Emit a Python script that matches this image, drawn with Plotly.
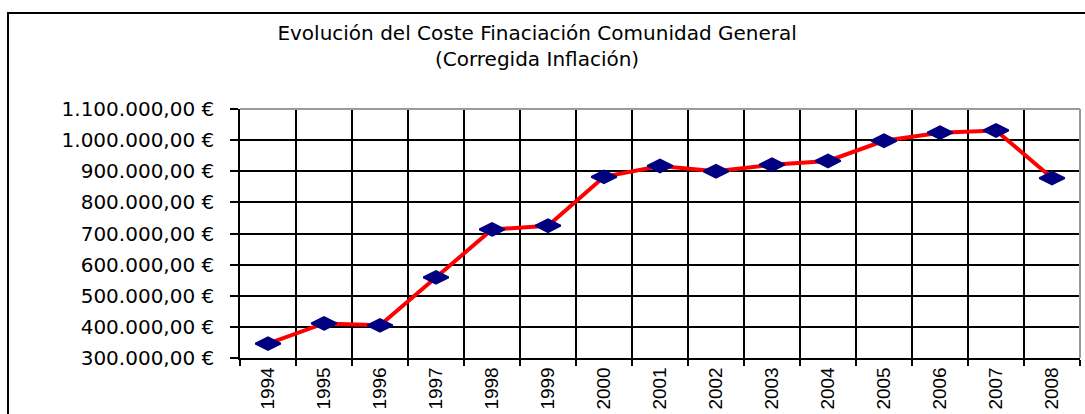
import plotly.graph_objects as go

years = ["1994", "1995", "1996", "1997", "1998", "1999", "2000", "2001",
         "2002", "2003", "2004", "2005", "2006", "2007", "2008"]
coste = [346000, 411000, 405000, 559000, 713000, 725000, 882000, 917000,
         900000, 921000, 933000, 998000, 1024000, 1031000, 878000]
y_ticks = [300000, 400000, 500000, 600000, 700000, 800000, 900000, 1000000, 1100000]
title_lines = ["Evolución del Coste Finaciación Comunidad General", "(Corregida Inflación)"]


def euro(v):
    s = f"{v:,.2f}"
    return s.replace(",", "X").replace(".", ",").replace("X", ".") + " €"


y_ticktext = [euro(v) for v in y_ticks]

fig = go.Figure()
fig.add_trace(go.Scatter(
    x=years, y=coste, mode="lines+markers",
    line=dict(color="#FF0000", width=4),
    marker=dict(symbol="diamond-wide", size=18, color="#000080",
                line=dict(color="#000080", width=2)),
    cliponaxis=False, showlegend=False,
))

fig.update_layout(
    width=1085, height=414,
    margin=dict(l=240, r=5, t=109, b=56),
    paper_bgcolor="white", plot_bgcolor="white",
    title=dict(text="<br>".join(title_lines), x=0.495, xanchor="center",
               xref="container", yref="container", y=1 - 40 / 414, yanchor="middle",
               font=dict(family="DejaVu Sans, Arial, sans-serif", size=20, color="black")),
    shapes=[
        dict(type="rect", xref="paper", yref="paper",
             x0=(8 - 240) / 840, x1=1.2, y0=-0.5, y1=(358 - 13) / 249,
             line=dict(color="black", width=2), layer="below"),
        dict(type="line", xref="paper", yref="paper", x0=0, x1=1, y0=1, y1=1,
             line=dict(color="#9a9a9a", width=2), layer="above"),
        dict(type="line", xref="paper", yref="paper", x0=1, x1=1, y0=0, y1=1,
             line=dict(color="#9a9a9a", width=2), layer="above"),
    ],
)

fig.update_xaxes(
    type="category", range=[-0.5, 14.5], tickson="boundaries", automargin=False,
    showgrid=True, gridcolor="black", gridwidth=1.5,
    showline=True, linecolor="black", linewidth=1.5,
    ticks="outside", ticklen=6, tickcolor="black", tickwidth=1.5,
    tickangle=-90, ticklabelstandoff=0,
    tickfont=dict(family="Liberation Sans, Arial, sans-serif", size=19, color="black"),
)
fig.update_yaxes(
    range=[300000, 1100000], tickvals=y_ticks, ticktext=y_ticktext, automargin=False,
    showgrid=True, gridcolor="black", gridwidth=1.5, zeroline=False,
    showline=True, linecolor="black", linewidth=1.5,
    ticks="outside", ticklen=8, tickcolor="black", tickwidth=1.5,
    ticklabelstandoff=12,
    tickfont=dict(family="DejaVu Sans, Arial, sans-serif", size=20, color="black"),
)

fig.write_html("out.html", config={"displayModeBar": False},
               post_script="document.body.style.margin='0';")
